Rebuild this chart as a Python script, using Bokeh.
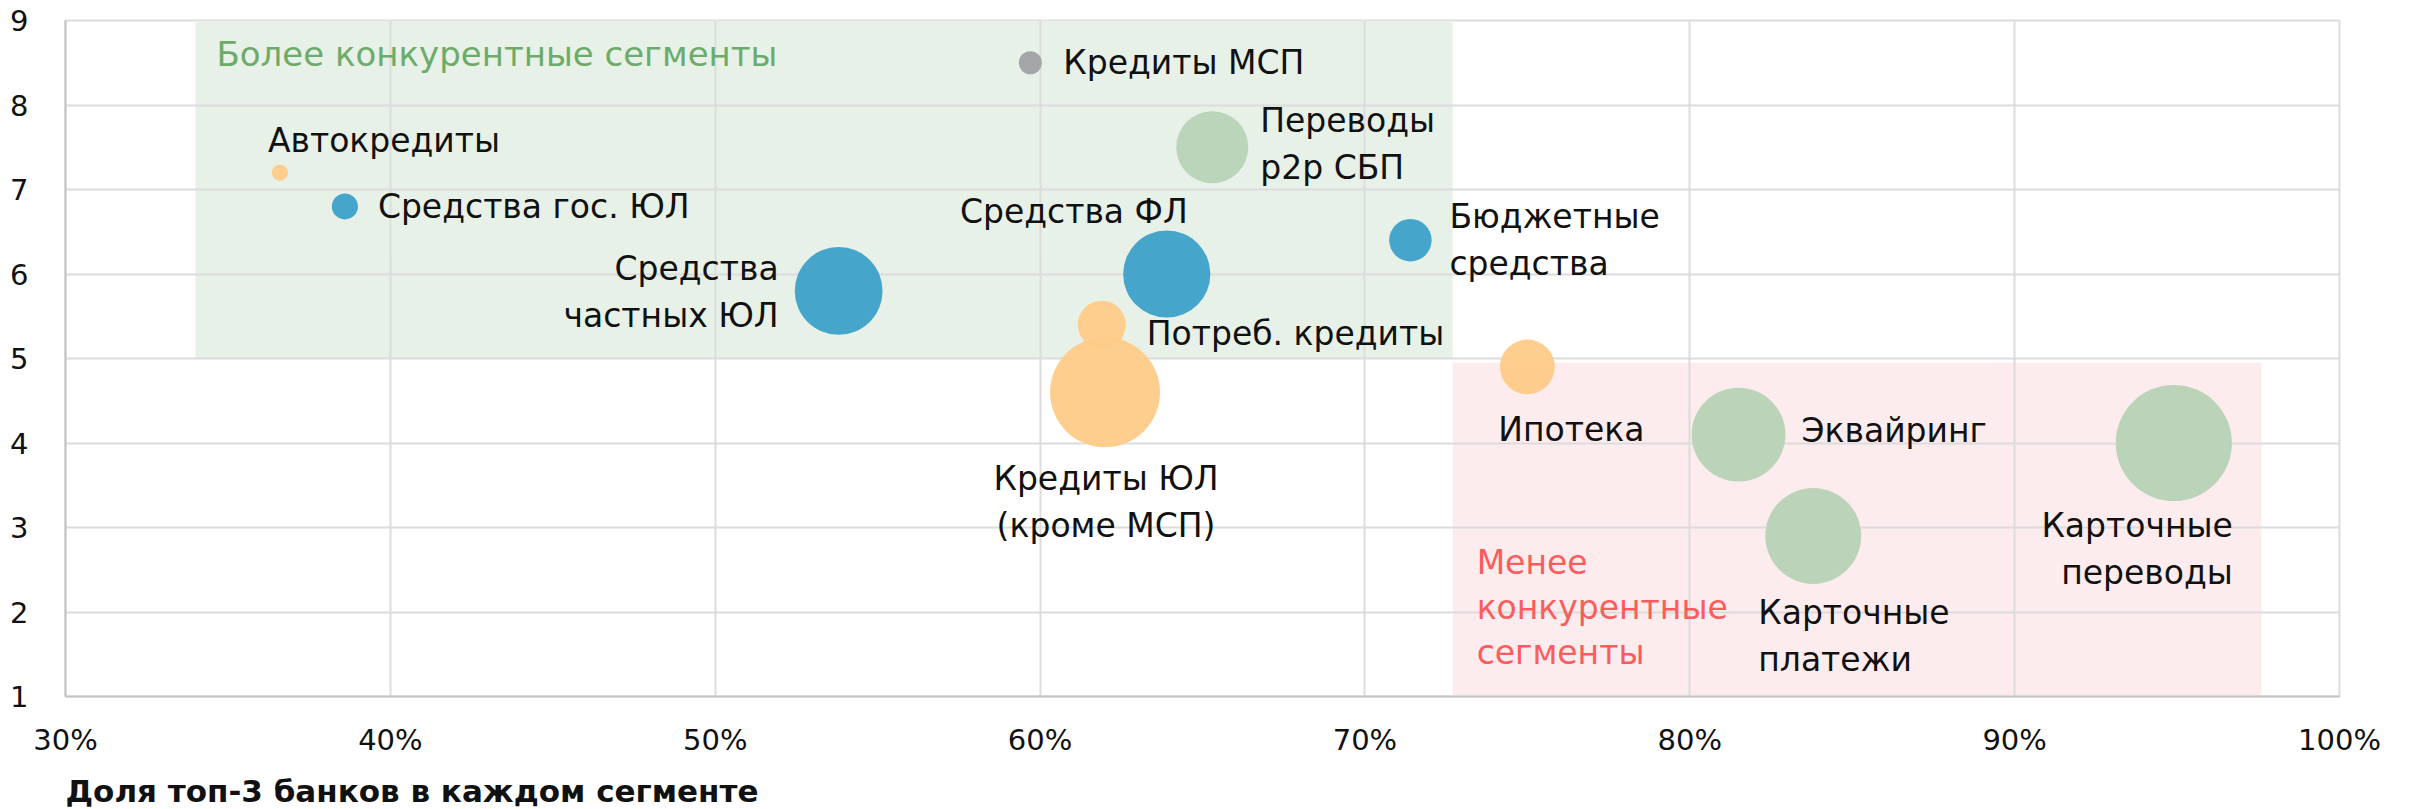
from bokeh.plotting import figure
from bokeh.models import ColumnDataSource, BoxAnnotation, NumeralTickFormatter, FixedTicker, Title, Range1d
from bokeh.core.properties import value
from bokeh.embed import file_html
from bokeh.resources import INLINE

# ---------------- data ----------------
segments = ["Автокредиты", "Средства гос. ЮЛ", "Средства\nчастных ЮЛ", "Кредиты МСП",
            "Переводы\np2p СБП", "Средства ФЛ", "Бюджетные\nсредства", "Потреб. кредиты",
            "Кредиты ЮЛ\n(кроме МСП)", "Ипотека", "Эквайринг", "Карточные\nплатежи",
            "Карточные\nпереводы"]
top3_share = [0.366, 0.386, 0.538, 0.597, 0.653, 0.639, 0.714, 0.619, 0.620, 0.750, 0.815, 0.838, 0.949]
competition = [7.2, 6.8, 5.8, 8.5, 7.5, 6.0, 6.4, 5.4, 4.6, 4.9, 4.1, 2.9, 4.0]
volume = [2.6, 6.8, 77, 5.3, 52, 76, 18, 23, 121, 30, 88, 92, 135]
group = ["Кредиты", "Средства", "Средства", "МСП", "Платежи", "Средства", "Средства",
         "Кредиты", "Кредиты", "Кредиты", "Платежи", "Платежи", "Платежи"]

x_ticks = [0.3, 0.4, 0.5, 0.6, 0.7, 0.8, 0.9, 1.0]
y_ticks = [1, 2, 3, 4, 5, 6, 7, 8, 9]
x_title = "Доля топ-3 банков в каждом сегменте"
more_label = "Более конкурентные сегменты"
less_label = "Менее\nконкурентные\nсегменты"

# zones (data units)
more_zone = dict(left=0.34, right=0.727, bottom=5.0, top=9.0)
less_zone = dict(left=0.727, right=0.976, bottom=1.0, top=4.95)

# ---------------- styles ----------------
palette = {"Средства": "#3ca0c8", "Кредиты": "#fecb89", "Платежи": "#b7d3b6", "МСП": "#9fa0a2"}
FONT = "DejaVu Sans"
label_dx = [-12, 33, -60, 33, 48, 21, 39, 45, 1, 44, 63, -55, 59]
label_dy = [-32, 0, 1, 0, -3, -63, 0, 9, 110, 63, -4, 100, 106]
label_align = ["left", "left", "right", "left", "left", "right", "left", "left",
               "center", "center", "left", "left", "right"]

src = ColumnDataSource(dict(
    x=top3_share, y=competition, label=segments,
    diam=[10 * v ** 0.5 for v in volume],
    color=[palette[g] for g in group],
    dx=label_dx, dy=label_dy, align=label_align,
))

p = figure(frame_width=2274, frame_height=676,
           x_range=Range1d(0.3, 1.0), y_range=Range1d(1, 9),
           output_backend="svg", toolbar_location=None,
           min_border_left=65, min_border_right=60, min_border_top=20, min_border_bottom=16)
p.background_fill_color = "white"
p.border_fill_color = "white"
p.outline_line_color = "#dcdcdc"
p.outline_line_width = 2

for g in (p.xgrid, p.ygrid):
    g.grid_line_color = "#dcdcdc"
    g.grid_line_width = 2

p.xaxis.ticker = FixedTicker(ticks=x_ticks)
p.yaxis.ticker = FixedTicker(ticks=y_ticks)
p.xaxis.formatter = NumeralTickFormatter(format="0%")
for ax in (p.xaxis, p.yaxis):
    ax.major_tick_line_color = None
    ax.minor_tick_line_color = None
    ax.axis_line_color = "#c4c4c4"
    ax.axis_line_width = 2
    ax.major_label_text_font = FONT
    ax.major_label_text_font_size = "29px"
    ax.major_label_text_color = "#111111"
p.xaxis.major_label_standoff = 20
p.yaxis.major_label_standoff = 31

p.add_layout(BoxAnnotation(left=more_zone["left"], right=more_zone["right"],
                           bottom=more_zone["bottom"], top=more_zone["top"],
                           fill_color="#e8f1e8", fill_alpha=1.0, line_color=None, level="image"))
p.add_layout(BoxAnnotation(left=less_zone["left"], right=less_zone["right"],
                           bottom=less_zone["bottom"], top=less_zone["top"],
                           fill_color="#fdeced", fill_alpha=1.0, line_color=None, level="image"))

p.scatter(x="x", y="y", size="diam", fill_color="color", fill_alpha=0.95,
          line_color=None, source=src)

p.text(x="x", y="y", text="label", x_offset="dx", y_offset="dy", text_align="align",
       text_baseline="middle", text_font=value(FONT), text_font_size="33px",
       text_color="#111111", text_line_height=1.2, source=src)

p.text(x=[more_zone["left"]], y=[more_zone["top"]], text=[more_label], x_offset=21, y_offset=33,
       text_align="left", text_baseline="middle", text_font=value(FONT),
       text_font_size="34px", text_color="#6cab6a")
p.text(x=[less_zone["left"]], y=[less_zone["bottom"]], text=[less_label], x_offset=24, y_offset=-89,
       text_align="left", text_baseline="middle", text_font=value(FONT),
       text_font_size="33px", text_color="#fc5c5d", text_line_height=1.16)

p.add_layout(Title(text=x_title, align="left", text_font=FONT, text_font_size="31px",
                   text_font_style="bold", text_color="#111111", standoff=22), "below")

open("out.html", "w").write(file_html(p, INLINE))
